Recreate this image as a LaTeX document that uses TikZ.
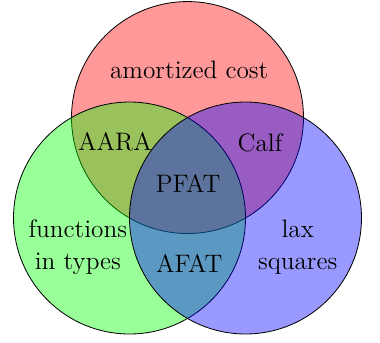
\documentclass[tikz,border=0pt]{standalone}
\usepackage{xcolor}
\usepackage{tikz}
\usetikzlibrary{positioning,shapes}
\tikzstyle{set}=[circle, draw=black, minimum size=4cm, inner sep=0pt, fill opacity=0.4, text opacity=1]
\tikzstyle{region}=[text centered, align=center, font=\fontsize{12.4}{15.8}\selectfont, inner sep=1pt]

\begin{document}
\begin{tikzpicture}
    \useasboundingbox (-2.233,-2.138) rectangle (4.319,3.759);
    \node (Cost) [set, fill=red] at (1,1.732) {};
    \node (Types) [set, fill=green] at (0,0) {};
    \node (Lax) [set, fill=blue] at (2,0) {};
    \node (CostText) [region] at (1.03,2.55) {amortized cost};
    \node (AARA) [region] at (-0.25,1.31) {AARA};
    \node (Calf) [region] at (2.25,1.29) {Calf};
    \node (PFAT) [region] at (1.01,0.59) {PFAT};
    \node (TypesText) [region] at (-0.89,-0.5) {functions\\in types};
    \node (AFAT) [region] at (1.03,-0.78) {AFAT};
    \node (LaxText) [region] at (2.9,-0.5) {lax\\squares};
\end{tikzpicture}
\end{document}
